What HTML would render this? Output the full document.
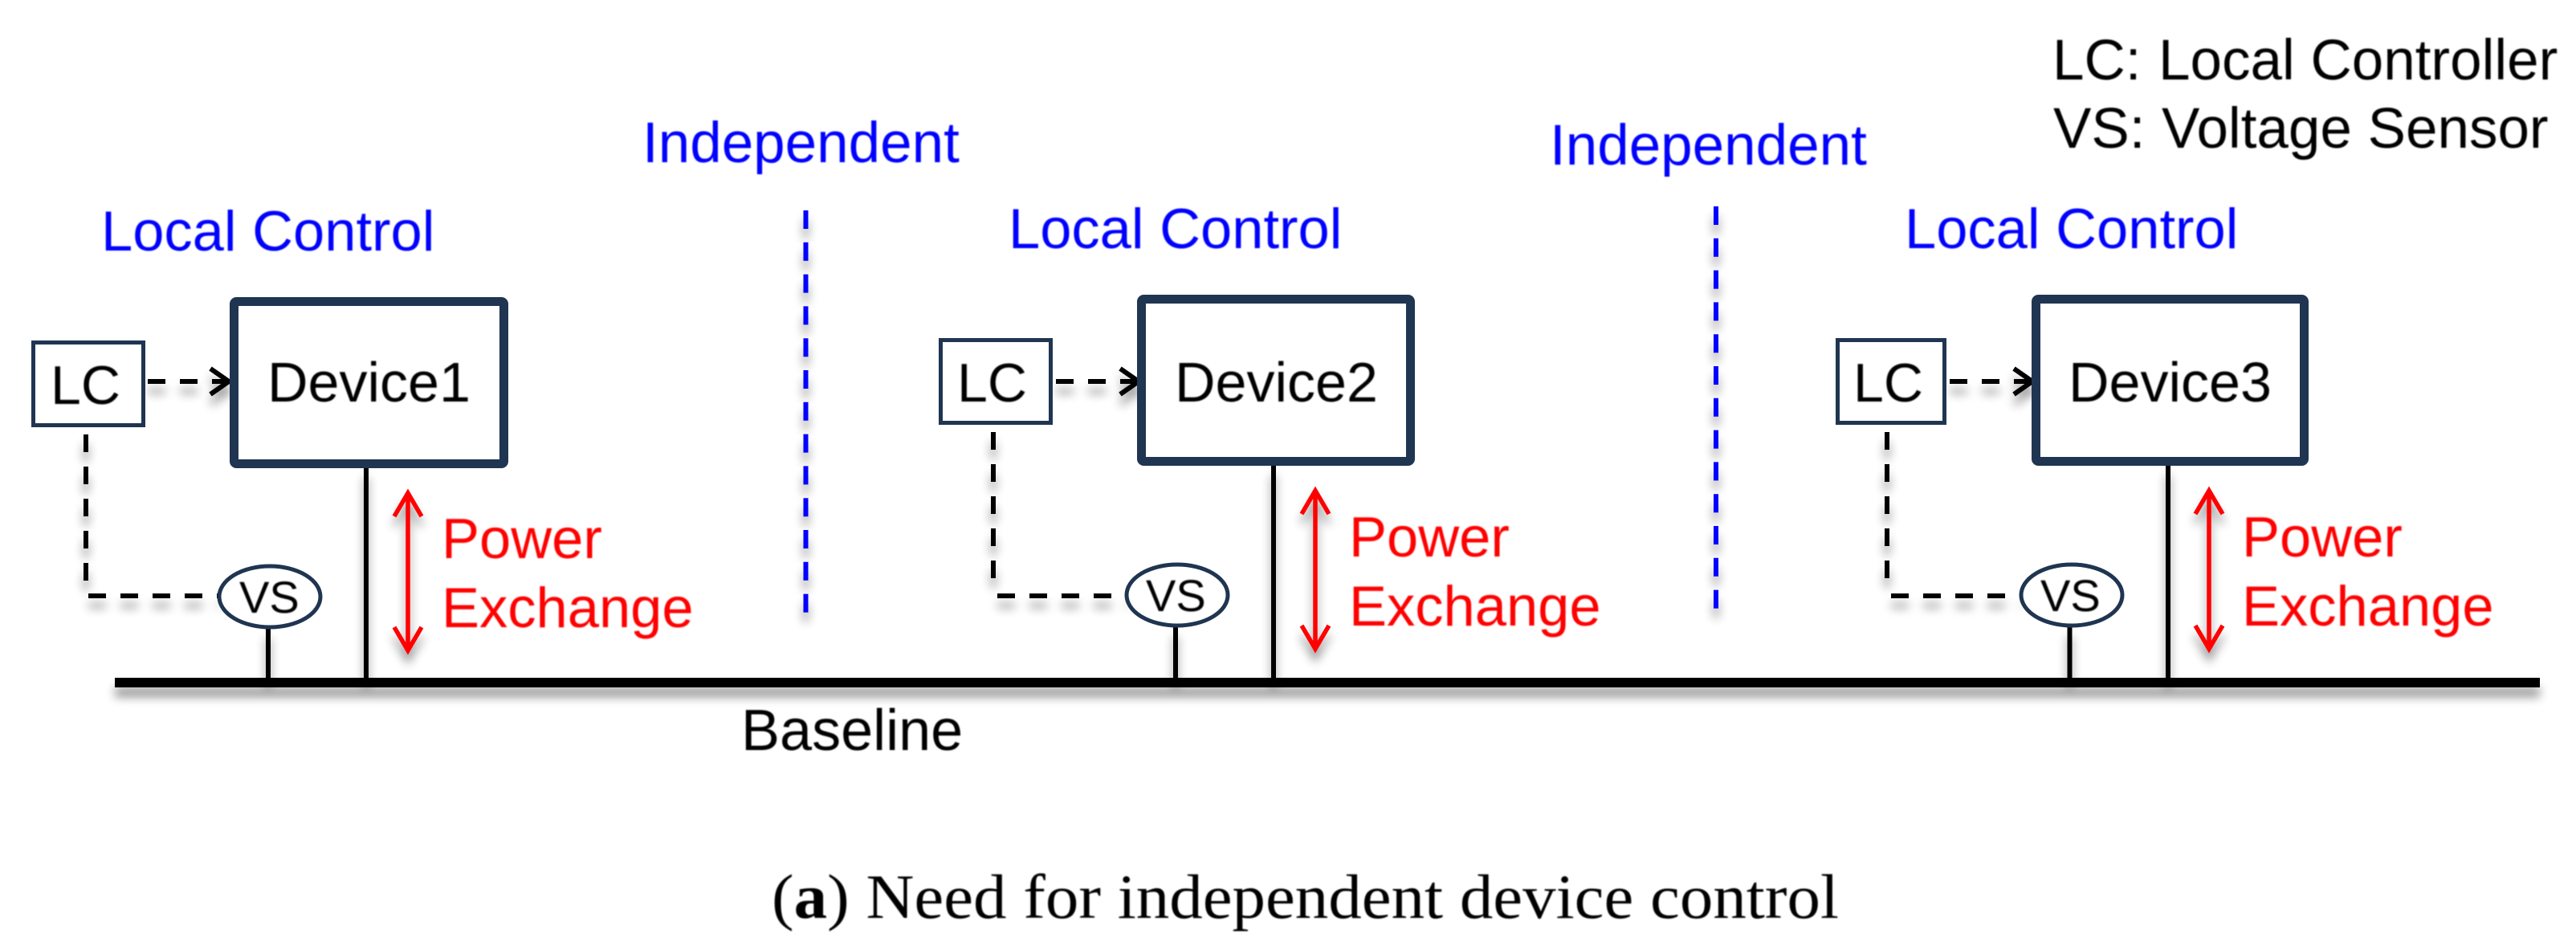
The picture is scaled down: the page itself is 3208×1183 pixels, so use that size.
<!DOCTYPE html>
<html><head><meta charset="utf-8"><style>
html,body{margin:0;padding:0;background:#fff}
svg{display:block}
text{font-family:"Liberation Sans",sans-serif;font-size:70.5px}
.d{font-size:70px;fill:#000}
.l{font-size:68px;fill:#000}
.v{font-size:56px;fill:#000}
.b{fill:#00f}.r{fill:#f00}.k{fill:#000}
.i{font-size:71px;fill:#00f}
.g{font-size:71px;fill:#000}
.base{font-size:72px;fill:#000}
.cap{font-family:"Liberation Serif",serif;font-size:78px;fill:#000}
.box{fill:#fff;stroke:#1f3551;stroke-width:11;stroke-linejoin:round}
.lc{fill:#fff;stroke:#1f3551;stroke-width:5}
.vs{fill:#fff;stroke:#1f3551;stroke-width:5}
.dash{fill:none;stroke:#000;stroke-width:6;stroke-dasharray:22 18}
.solid{fill:none;stroke:#000;stroke-width:6}
.head{fill:none;stroke:#000;stroke-width:6}
.red{fill:none;stroke:#f00;stroke-width:5.5}
.bl{fill:none;stroke:#00f;stroke-width:6;stroke-dasharray:23 16.8}
</style></head><body>
<svg width="3208" height="1183" viewBox="0 0 3208 1183" xmlns="http://www.w3.org/2000/svg">
<defs>
<filter id="s" x="0" y="0" width="3208" height="1183" filterUnits="userSpaceOnUse">
<feGaussianBlur in="SourceAlpha" stdDeviation="6"/>
<feOffset dy="12"/>
<feComponentTransfer><feFuncA type="linear" slope="0.42"/></feComponentTransfer>
<feMerge><feMergeNode/><feMergeNode in="SourceGraphic"/></feMerge>
</filter>
<filter id="t" x="0" y="0" width="3208" height="1183" filterUnits="userSpaceOnUse"><feGaussianBlur stdDeviation="0.7"/></filter>
</defs>
<rect width="3208" height="1183" fill="#fff"/>

<g filter="url(#s)">
<rect x="143" y="844" width="3020" height="12" fill="#000"/>
<path class="solid" d="M456 583V846M334 783V846M1586 580V846M1464 781V846M2700 580V846M2577.5 781V846"/>
<path class="red" d="M508 616V808M491 643L508 614L525 643M491 781L508 810L525 781"/>
<path class="red" d="M1638 613V806M1621 640L1638 611L1655 640M1621 779L1638 808L1655 779"/>
<path class="red" d="M2751 613V806M2734 640L2751 611L2768 640M2734 779L2751 808L2768 779"/>
<path class="bl" d="M1003.5 262V763"/>
<path class="bl" d="M2137 257V758"/>
<path class="dash" d="M107 541V740"/><path class="dash" d="M110 742H274"/>
<path class="dash" d="M184 475H282"/><path class="head" d="M262 459L285 475L262 491"/>
<path class="dash" d="M1237 538V738"/><path class="dash" d="M1242 742H1405"/>
<path class="dash" d="M1315 475H1414"/><path class="head" d="M1395 459L1418 475L1395 491"/>
<path class="dash" d="M2350 538V738"/><path class="dash" d="M2355 742H2518"/>
<path class="dash" d="M2428 475H2527"/><path class="head" d="M2508 459L2531 475L2508 491"/>
</g>

<rect class="box" x="291.5" y="375.5" width="336" height="202" rx="3"/>
<rect class="box" x="1421.5" y="372.5" width="335" height="202" rx="3"/>
<rect class="box" x="2535.5" y="372.5" width="334" height="202" rx="3"/>
<rect class="lc" x="41.5" y="426.5" width="137" height="103"/>
<rect class="lc" x="1171.5" y="423.5" width="137" height="103"/>
<rect class="lc" x="2288.5" y="423.5" width="133" height="103"/>
<ellipse class="vs" cx="336" cy="743" rx="63" ry="38"/>
<ellipse class="vs" cx="1466" cy="741" rx="63" ry="38"/>
<ellipse class="vs" cx="2580" cy="741" rx="63" ry="38"/>

<g filter="url(#t)">
<text class="g" x="2556" y="99">LC:</text><text class="g" x="2688" y="99">Local Controller</text>
<text class="g" x="2557" y="184">VS:</text><text class="g" x="2692" y="184">Voltage Sensor</text>
<text class="i" x="800" y="202">Independent</text>
<text class="i" x="1930" y="205">Independent</text>
<text class="b" x="126" y="312">Local Control</text>
<text class="b" x="1256" y="309">Local Control</text>
<text class="b" x="2372" y="309">Local Control</text>
<text class="l" x="63" y="503">LC</text>
<text class="l" x="1192" y="500">LC</text>
<text class="l" x="2308" y="500">LC</text>
<text class="d" x="333" y="500">Device1</text>
<text class="d" x="1463" y="500">Device2</text>
<text class="d" x="2576" y="500">Device3</text>
<text class="v" x="298" y="763">VS</text>
<text class="v" x="1427" y="761">VS</text>
<text class="v" x="2541" y="761">VS</text>
<text class="r" x="550" y="695">Power</text><text class="r" x="550" y="781">Exchange</text>
<text class="r" x="1680" y="693">Power</text><text class="r" x="1680" y="779">Exchange</text>
<text class="r" x="2792" y="693">Power</text><text class="r" x="2792" y="779">Exchange</text>
<text class="base" x="923" y="934">Baseline</text>
<text class="cap" x="961" y="1143" textLength="1329" lengthAdjust="spacingAndGlyphs">(<tspan font-weight="bold">a</tspan>) Need for independent device control</text>
</g>
</svg>
</body></html>
